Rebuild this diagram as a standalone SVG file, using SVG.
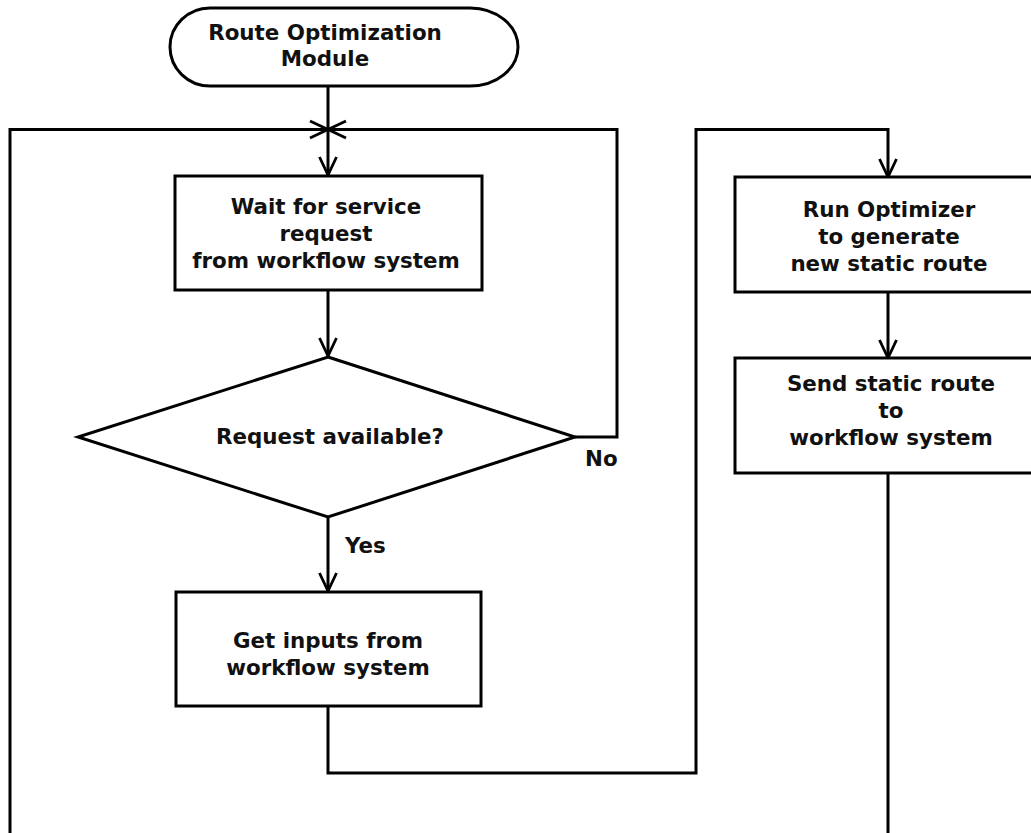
<svg xmlns="http://www.w3.org/2000/svg" width="1031" height="833" viewBox="0 0 1031 833">
<style>
.shape{fill:#fff;stroke:#000;stroke-width:3}
.conn{fill:none;stroke:#000;stroke-width:3}
text{font-family:"DejaVu Sans","Liberation Sans",sans-serif;font-weight:bold;font-size:21.4px;fill:#111;text-anchor:middle}
.lbl{text-anchor:start}
</style>
<defs>
<marker id="arr" markerUnits="userSpaceOnUse" markerWidth="22" markerHeight="20" viewBox="-20 -10 22 20" refX="0" refY="0" orient="auto" overflow="visible">
<path d="M-18,-8.5 L0,0 L-18,8.5" fill="none" stroke="#000" stroke-width="2.8"/>
</marker>
</defs>
<rect width="1031" height="833" fill="#fff"/>
<g id="connectors">
<path class="conn" d="M328 86 V175" marker-end="url(#arr)"/>
<path class="conn" d="M328 290 V356" marker-end="url(#arr)"/>
<path class="conn" d="M575 437 H617 V129.5 H328" marker-end="url(#arr)"/>
<path class="conn" d="M328 517 V591" marker-end="url(#arr)"/>
<path class="conn" d="M328 706 V773 H696 V129.5 H888 V177" marker-end="url(#arr)"/>
<path class="conn" d="M888 292 V358" marker-end="url(#arr)"/>
<path class="conn" d="M888 473 V860 H10 V129.5 H328" marker-end="url(#arr)"/>
</g>
<g id="start">
<path class="shape" d="M210 8 H470 A48 39 0 0 1 470 86 H210 A40 39 0 0 1 210 8 Z"/>
<text x="325" y="40">Route Optimization</text>
<text x="325" y="66">Module</text>
</g>
<g id="wait">
<rect class="shape" x="175" y="176" width="307" height="114"/>
<text x="326" y="214">Wait for service</text>
<text x="326" y="241">request</text>
<text x="326" y="268">from workflow system</text>
</g>
<g id="decision">
<polygon class="shape" points="328,357 575,437 328,517 78,437"/>
<text x="330" y="444">Request available?</text>
</g>
<text class="lbl" x="585" y="466">No</text>
<text class="lbl" x="345" y="553">Yes</text>
<g id="inputs">
<rect class="shape" x="176" y="592" width="305" height="114"/>
<text x="328" y="648">Get inputs from</text>
<text x="328" y="675">workflow system</text>
</g>
<g id="optimizer">
<rect class="shape" x="735" y="177" width="310" height="115"/>
<text x="889" y="217">Run Optimizer</text>
<text x="889" y="244">to generate</text>
<text x="889" y="271">new static route</text>
</g>
<g id="send">
<rect class="shape" x="735" y="358" width="310" height="115"/>
<text x="891" y="391">Send static route</text>
<text x="891" y="418">to</text>
<text x="891" y="445">workflow system</text>
</g>
</svg>
